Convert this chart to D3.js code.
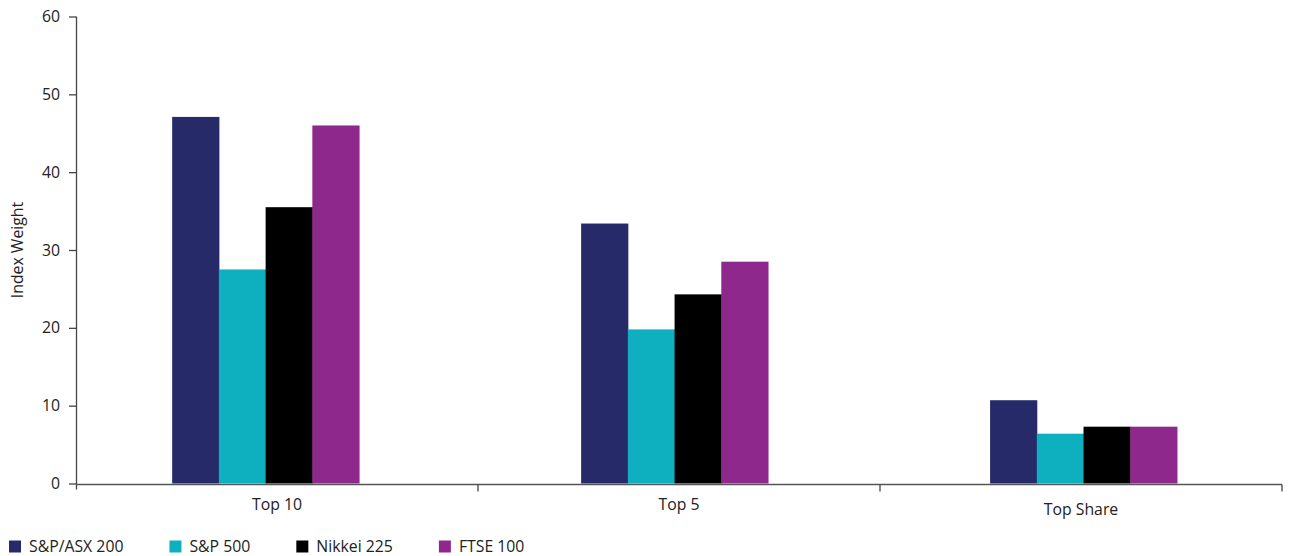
<!DOCTYPE html>
<html>
<head>
<meta charset="utf-8">
<script src="https://cdn.jsdelivr.net/npm/d3@7"></script>
<style>
  html, body { margin: 0; padding: 0; background: #fff; }
  svg { display: block; font-family: "Open Sans", "Noto Sans", sans-serif; }
</style>
</head>
<body>
<svg id="chart" width="1293" height="556"></svg>
<script>
// Concentration of index weight held by the largest constituents
const categories = ["Top 10", "Top 5", "Top Share"];
const seriesNames = ["S&P/ASX 200", "S&P 500", "Nikkei 225", "FTSE 100"];
const asx200 = [47.1, 33.4, 10.7];
const sp500 = [27.5, 19.8, 6.4];
const nikkei225 = [35.5, 24.3, 7.3];
const ftse100 = [46.0, 28.5, 7.3];
const yTicks = [0, 10, 20, 30, 40, 50, 60];

const seriesValues = [asx200, sp500, nikkei225, ftse100];
const colors = ["#262A68", "#0EB0BF", "#000000", "#8F288C"];

const svg = d3.select("#chart");
const plotLeft = 76, plotRight = 1282, plotTop = 16.5, plotBottom = 483.5;
const fontSize = "15.8px";

const y = d3.scaleLinear().domain([0, 60]).range([plotBottom, plotTop]);

// axis categories split the full width into equal slots
const xAxisScale = d3.scaleBand().domain(categories).range([plotLeft, plotRight]);

// bar groups placed within the plot
const x0 = d3.scaleBand().domain(categories).range([plotLeft, plotRight])
  .paddingInner(0.543).paddingOuter(0.246).align(0.478);
const x1 = d3.scaleBand().domain(seriesNames).range([0, x0.bandwidth()]);

// bars
const groups = svg.append("g").selectAll("g")
  .data(categories)
  .join("g")
  .attr("transform", d => `translate(${x0(d)},0)`);

groups.selectAll("rect")
  .data((d, i) => seriesNames.map((s, j) => ({ s, v: seriesValues[j][i], c: colors[j] })))
  .join("rect")
  .attr("x", d => x1(d.s))
  .attr("width", x1.bandwidth() + 0.5)
  .attr("y", d => y(d.v))
  .attr("height", d => y(0) - y(d.v))
  .attr("fill", d => d.c);

// y axis
const yAxis = svg.append("g")
  .attr("transform", `translate(${plotLeft},0)`)
  .call(d3.axisLeft(y).tickValues(yTicks).tickSize(7).tickPadding(9).tickSizeOuter(0));
yAxis.select(".domain").attr("stroke", "#444").attr("stroke-width", 1.3)
  .attr("d", `M0.5,${plotTop}V${plotBottom + 6}`);
yAxis.selectAll(".tick line").attr("stroke", "#444").attr("stroke-width", 1.3);
yAxis.selectAll(".tick text").attr("fill", "#222").style("font-size", fontSize)
  .style("font-family", "'Open Sans', 'Noto Sans', sans-serif");

// x axis with tick marks at slot boundaries
const xg = svg.append("g").attr("transform", `translate(0,${plotBottom + 1})`);
xg.append("line")
  .attr("x1", plotLeft).attr("x2", plotRight)
  .attr("stroke", "#555").attr("stroke-width", 1.3);
const boundaries = categories.map(c => xAxisScale(c)).concat([plotRight]);
xg.selectAll("line.tk")
  .data(boundaries.slice(1))
  .join("line")
  .attr("class", "tk")
  .attr("x1", d => d).attr("x2", d => d)
  .attr("y1", 0).attr("y2", 7)
  .attr("stroke", "#444").attr("stroke-width", 1.3);
xg.selectAll("text")
  .data(categories)
  .join("text")
  .attr("x", d => xAxisScale(d) + xAxisScale.bandwidth() / 2)
  .attr("y", (d, i) => i === 2 ? 30 : 25)
  .attr("text-anchor", "middle")
  .attr("fill", "#222")
  .style("font-size", fontSize)
  .text(d => d);

// y axis title
svg.append("text")
  .attr("transform", `translate(23,${(plotTop + plotBottom) / 2}) rotate(-90)`)
  .attr("text-anchor", "middle")
  .attr("fill", "#222")
  .style("font-size", fontSize)
  .text("Index Weight");

// legend
const legend = svg.append("g").attr("transform", "translate(9,540.5)");
let lx = 0;
seriesNames.forEach((name, i) => {
  const item = legend.append("g").attr("transform", `translate(${lx},0)`);
  item.append("rect").attr("width", 12).attr("height", 12).attr("fill", colors[i]);
  const t = item.append("text")
    .attr("x", 20).attr("y", 11.5)
    .attr("fill", "#222")
    .style("font-size", fontSize)
    .text(name);
  lx += 20 + t.node().getComputedTextLength() + 46;
});
</script>
</body>
</html>
